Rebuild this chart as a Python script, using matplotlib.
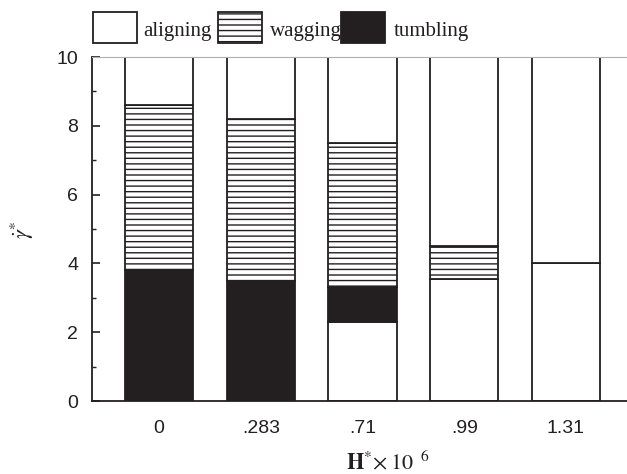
import matplotlib
matplotlib.use("Agg")
import matplotlib.pyplot as plt
from matplotlib.patches import Rectangle
from matplotlib.ticker import MultipleLocator

# ---- data ----
categories = ['0', '.283', '.71', '.99', '1.31']
# segment boundaries (bottom -> top) for each bar, and the state of each segment
bar_boundaries = [
    [0, 3.8, 8.6, 10],
    [0, 3.5, 8.2, 10],
    [0, 2.3, 3.3, 7.5, 10],
    [0, 3.55, 4.5, 10],
    [0, 4.0, 10],
]
bar_states = [
    ['tumbling', 'wagging', 'aligning'],
    ['tumbling', 'wagging', 'aligning'],
    ['aligning', 'tumbling', 'wagging', 'aligning'],
    ['aligning', 'wagging', 'aligning'],
    ['aligning', 'aligning'],
]
legend_labels = ['aligning', 'wagging', 'tumbling']

# ---- style ----
plt.rcParams['hatch.linewidth'] = 1.0
plt.rcParams['mathtext.fontset'] = 'stix'
dark = '#231f20'
styles = {
    'aligning': dict(facecolor='white', hatch=None),
    'wagging': dict(facecolor='white', hatch='---'),
    'tumbling': dict(facecolor=dark, hatch=None),
}

W, H = 627, 474
fig = plt.figure(figsize=(W / 100, H / 100), dpi=100)
ax = fig.add_axes([92 / W, (H - 401) / H, 1 - 92 / W, (401 - 57) / H])

xs = list(range(len(categories)))
for x, bounds, states in zip(xs, bar_boundaries, bar_states):
    for lo, hi, st in zip(bounds[:-1], bounds[1:], states):
        s = styles[st]
        ax.bar(x, hi - lo, bottom=lo, width=0.67, facecolor=s['facecolor'],
               hatch=s['hatch'], edgecolor=dark, linewidth=1.3)

ax.set_xlim(-0.66, 4.6)
ax.set_ylim(0, 10)
ax.set_xticks(xs)
ax.set_xticklabels(categories, family='Liberation Sans', fontsize=14)
ax.tick_params(axis='x', length=0, pad=14)
ax.yaxis.set_major_locator(MultipleLocator(2))
ax.yaxis.set_minor_locator(MultipleLocator(1))
ax.tick_params(axis='y', which='major', direction='in', length=6, width=1.2,
               labelsize=14, pad=10, colors=dark)
ax.tick_params(axis='y', which='minor', direction='in', length=3, width=1.0, colors=dark)
for lab in ax.get_yticklabels():
    lab.set_family('Liberation Sans')
ax.tick_params(axis='both', labelcolor=dark)
ax.spines['right'].set_visible(False)
ax.spines['top'].set_color('#b0b0b0')
ax.spines['top'].set_linewidth(0.8)
ax.spines['left'].set_color(dark)
ax.spines['bottom'].set_color(dark)
ax.spines['left'].set_linewidth(1.3)
ax.spines['bottom'].set_linewidth(1.3)

ax.set_ylabel(r'$\dot{\gamma}^{*}$', fontsize=16, color=dark)
ax.yaxis.set_label_coords((36 - 92) / (W - 92), (401 - 230) / (401 - 57))

fig.text(388 / W, 1 - 462 / H, r'$\mathbf{H}^{*}\!\times 10^{\ \ 6}$',
         ha='center', va='center', fontsize=16, color=dark)

# ---- legend (manual) ----
leg_x = [93, 218, 341]
txt_x = [143, 270, 394]
for lx, tx, lab in zip(leg_x, txt_x, legend_labels):
    s = styles[lab]
    r = Rectangle((lx / W, 1 - 43 / H), 44 / W, 31 / H, transform=fig.transFigure,
                  facecolor=s['facecolor'], hatch=s['hatch'], edgecolor=dark,
                  linewidth=1.3)
    fig.add_artist(r)
    fig.text(tx / W, 1 - 36 / H, lab, family='Liberation Serif', fontsize=15,
             va='baseline', ha='left', color=dark)

fig.savefig('out.png', dpi=100)
